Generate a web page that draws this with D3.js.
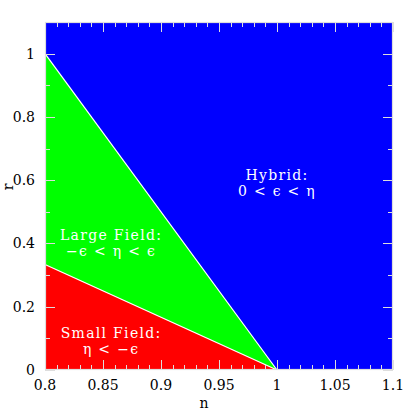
<!DOCTYPE html>
<html><head><meta charset="utf-8">
<script src="https://cdn.jsdelivr.net/npm/d3@7"></script>
<style>body{margin:0;background:#fff}svg{display:block}</style>
</head><body>
<script>
// Data
const xDomain = [0.8, 1.1];
const yDomain = [0, 1.1];
const xTicksMajor = [0.8, 0.85, 0.9, 0.95, 1, 1.05, 1.1];
const xTickLabels = ["0.8", "0.85", "0.9", "0.95", "1", "1.05", "1.1"];
const yTicksMajor = [0, 0.2, 0.4, 0.6, 0.8, 1];
const yTickLabels = ["0", "0.2", "0.4", "0.6", "0.8", "1"];
// Region boundaries (n, r)
const hybridRegion = [[0.8, 1.1], [1.1, 1.1], [1.1, 0], [1, 0], [0.8, 1]];
const largeFieldRegion = [[0.8, 1], [1, 0], [0.8, 1/3]];
const smallFieldRegion = [[0.8, 1/3], [1, 0], [0.8, 0]];
const boundaryUpper = [[0.8, 1], [1, 0]];
const boundaryLower = [[0.8, 1/3], [1, 0]];
const regionLabels = [
  {lines: ["Hybrid:", "0 < ϵ < η"], n: 1.0, r: 0.6},
  {lines: ["Large Field:", "−ϵ < η < ϵ"], n: 0.857, r: 0.41},
  {lines: ["Small Field:", "η < −ϵ"], n: 0.857, r: 0.1}
];

const W = 415, H = 415;
const m = {left: 45, right: 22, top: 22, bottom: 45};
const svg = d3.select("body").append("svg").attr("width", W).attr("height", H);
const x = d3.scaleLinear().domain(xDomain).range([m.left, W - m.right]);
const y = d3.scaleLinear().domain(yDomain).range([H - m.bottom, m.top]);
const line = d3.line().x(d => x(d[0])).y(d => y(d[1]));

svg.append("path").attr("d", line(hybridRegion) + "Z").attr("fill", "#0000ff");
svg.append("path").attr("d", line(largeFieldRegion) + "Z").attr("fill", "#00ff00");
svg.append("path").attr("d", line(smallFieldRegion) + "Z").attr("fill", "#ff0000");
[boundaryUpper, boundaryLower].forEach(b =>
  svg.append("path").attr("d", line(b)).attr("stroke", "#fff").attr("stroke-width", 1.2).attr("fill", "none"));

const tickCol = "#ddd";
const xMinor = d3.range(0, 31).map(i => 0.8 + i * 0.01);
const yMinor = d3.range(0, 12).map(i => i * 0.1);
const isMajX = v => xTicksMajor.some(t => Math.abs(t - v) < 1e-6);
const isMajY = v => yTicksMajor.some(t => Math.abs(t - v) < 1e-6);
const tg = svg.append("g").attr("stroke", tickCol).attr("stroke-width", 1);
xMinor.forEach(v => {
  const L = isMajX(v) ? 10 : 5;
  const px = Math.round(x(v)) + 0.5;
  tg.append("line").attr("x1", px).attr("x2", px).attr("y1", y(0)).attr("y2", y(0) - L);
  tg.append("line").attr("x1", px).attr("x2", px).attr("y1", y(1.1)).attr("y2", y(1.1) + L);
});
yMinor.forEach(v => {
  const L = isMajY(v) ? 10 : 5;
  const py = Math.round(y(v)) + 0.5;
  tg.append("line").attr("x1", x(0.8)).attr("x2", x(0.8) + L).attr("y1", py).attr("y2", py);
  tg.append("line").attr("x1", x(1.1)).attr("x2", x(1.1) - L).attr("y1", py).attr("y2", py);
});
svg.append("rect").attr("x", m.left + 0.5).attr("y", m.top + 0.5)
  .attr("width", W - m.left - m.right - 1).attr("height", H - m.top - m.bottom - 1)
  .attr("fill", "none").attr("stroke", tickCol).attr("stroke-width", 1.2);

const font = "'DejaVu Serif', serif";
svg.append("g").selectAll("text").data(xTicksMajor).join("text")
  .attr("x", d => x(d)).attr("y", 390).attr("text-anchor", "middle")
  .attr("font-family", font).attr("font-size", 14).text((d, i) => xTickLabels[i]);
svg.append("g").selectAll("text").data(yTicksMajor).join("text")
  .attr("x", 35).attr("y", d => y(d) + 5).attr("text-anchor", "end")
  .attr("font-family", font).attr("font-size", 14).text((d, i) => yTickLabels[i]);
svg.append("text").attr("x", 204).attr("y", 408).attr("text-anchor", "middle")
  .attr("font-family", font).attr("font-size", 14).text("n");
svg.append("text").attr("transform", "translate(13,187) rotate(-90)").attr("text-anchor", "middle")
  .attr("font-family", font).attr("font-size", 14).text("r");

regionLabels.forEach(l => {
  l.lines.forEach((s, i) => svg.append("text").attr("text-anchor", "middle").attr("fill", "#fff")
    .attr("font-family", font).attr("font-size", 14).attr("letter-spacing", 1.3)
    .attr("x", x(l.n)).attr("y", y(l.r) + i * 16).text(s));
});
</script>
</body></html>
